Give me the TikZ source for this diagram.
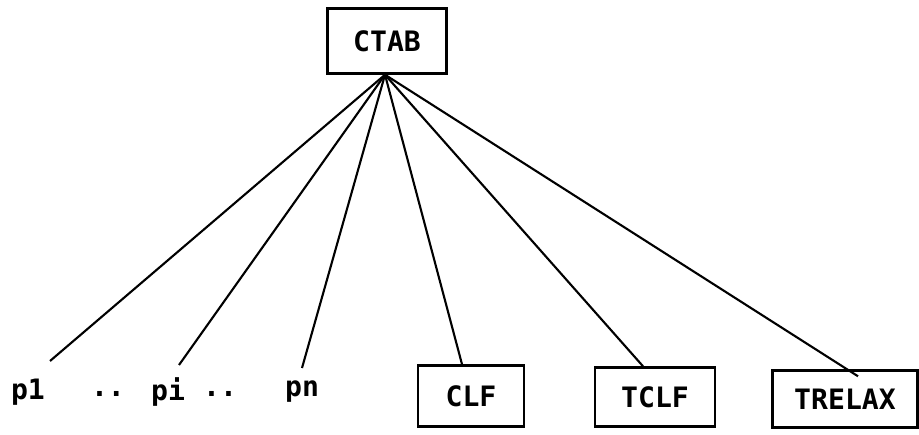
\documentclass[tikz,border=0pt]{standalone}
\usepackage{fontspec}
\setmainfont{DejaVu Sans Mono}
\begin{document}
\begin{tikzpicture}[
        x=0.02cm, y=-0.02cm,
        box/.style={draw, line width=1.4pt, inner sep=0pt},
        leaf/.style={inner sep=1pt},
        edge/.style={line width=1.2pt},
        label/.style={font=\fontsize{16}{18}\selectfont\bfseries}
    ]
    % Rámec obrázku
    \useasboundingbox (0,0) rectangle (919,435);

    % Kořen
    \node[box, label, minimum width=2.38cm, minimum height=1.3cm] (ctab) at (387,41) {CTAB};

    % Parametry p
    \node[leaf, label] (p1) at (28,392) {p1};
    \node[leaf, label] (d1) at (108,394) {..};
    \node[leaf, label] (pi) at (168,392) {pi};
    \node[leaf, label] (d2) at (220,394) {..};
    \node[leaf, label] (pn) at (302,392) {pn};

    % Konce čar nad p
    \coordinate (e1) at (50,361);
    \coordinate (ei) at (179,365);
    \coordinate (en) at (302,368);

    % Listy v rámečcích
    \node[box, label, minimum width=2.12cm, minimum height=1.22cm] (clf) at (471,396) {CLF};
    \node[box, label, minimum width=2.4cm, minimum height=1.18cm] (tclf) at (655,397) {TCLF};
    \node[box, label, minimum width=2.9cm, minimum height=1.14cm] (trelax) at (845,399) {TRELAX};

    % Hrany
    \coordinate (hub) at ([xshift=-0.04cm]ctab.south);
    \draw[edge] (hub) -- (e1);
    \draw[edge] (hub) -- (ei);
    \draw[edge] (hub) -- (en);
    \draw[edge] (hub) -- ([xshift=-0.18cm]clf.north);
    \draw[edge] (hub) -- ([xshift=-0.24cm]tclf.north);
    \draw[edge] (hub) -- ([xshift=0.26cm,yshift=-0.14cm]trelax.north);
\end{tikzpicture}
\end{document}
